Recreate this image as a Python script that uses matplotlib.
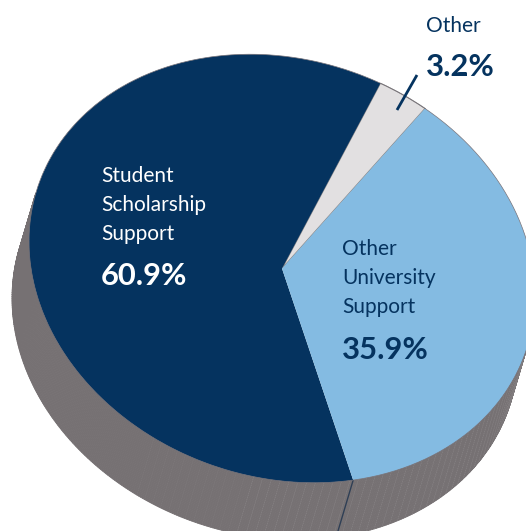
import numpy as np
import matplotlib
matplotlib.use("Agg")
import matplotlib.pyplot as plt
from matplotlib.transforms import Affine2D

labels = ["Other", "Student Scholarship Support", "Other University Support"]
shares = [3.2, 60.9, 35.9]
share_labels = ["3.2%", "60.9%", "35.9%"]
colors = ["#e2e0e1", "#05335f", "#84bbe2"]

W, H = 526, 531
FONT = "Lato"
NAVY = "#05335f"

fig = plt.figure(figsize=(W / 100, H / 100), dpi=100)
ax = fig.add_axes([0, 0, 1, 1])

# A circular pie seen through an affine tilt (pixel space, y pointing up)
a, b, c, d = 143, -208.7, 160, 142.5
cx, cy = 282, H - 268.5
tilt = Affine2D.from_values(a, c, b, d, cx, cy)
dx, dy = -17, -57

# side wall: only the part of the rim that faces the extrusion direction
t = np.linspace(0, 2 * np.pi, 721)
ex, ey = a * np.cos(t) + b * np.sin(t), c * np.cos(t) + d * np.sin(t)
tx, ty = -a * np.sin(t) + b * np.cos(t), -c * np.sin(t) + d * np.cos(t)
facing = (ty * dx - tx * dy) > 0
for i in range(len(t) - 1):
    if not facing[i]:
        continue
    xs = [ex[i] + cx, ex[i + 1] + cx, ex[i + 1] + cx + dx, ex[i] + cx + dx]
    ys = [ey[i] + cy, ey[i + 1] + cy, ey[i + 1] + cy + dy, ey[i] + cy + dy]
    ax.fill(xs, ys, color="#767173", lw=0.6, zorder=1)
for k in range(0, len(t) - 1, 4):
    px, py = ex[k] + cx, ey[k] + cy
    if px > 150 and facing[k]:
        ax.plot([px, px + dx], [py, py + dy], color="#8b8789", lw=0.5,
                ls=(0, (2, 1)), alpha=0.8 if px > 250 else 0.3, zorder=2)

wedges, _ = ax.pie(shares, colors=colors, startangle=0, radius=1, counterclock=True,
                   wedgeprops={"linewidth": 0})
ax.set_aspect("auto")
ax.set_xlim(0, W)
ax.set_ylim(0, H)
ax.axis("off")
for w in wedges:
    w.set_transform(tilt + ax.transData)
    w.set_zorder(3)
wedges[0].set_edgecolor("#8a8788")
wedges[0].set_linewidth(0.8)

# thin grey rim around the top face
ax.plot(ex + cx, ey + cy, color="#77737a", lw=0.5, zorder=3.5)

# seam on the wall under the slice boundary
ang = 2 * np.pi * (shares[0] + shares[1]) / 100
sx, sy = cx + a * np.cos(ang) + b * np.sin(ang), cy + c * np.cos(ang) + d * np.sin(ang)
ax.plot([sx, sx + dx], [sy, sy + dy], color="#2f3f55", lw=1, zorder=2.5)

# leader
ax.plot([397, 417], [H - 110, H - 75], color=NAVY, lw=2, zorder=4, solid_capstyle="butt")

def txt(x, y, s, color, size, weight="normal"):
    ax.text(x, H - y, s, color=color, fontsize=size, fontweight=weight,
            family=FONT, ha="left", va="baseline", zorder=5)

txt(426, 32, labels[0], NAVY, 15)
txt(426, 76, share_labels[0], NAVY, 22.2, "bold")
for y, s in zip([182, 211, 240], ["Student", "Scholarship", "Support"]):
    txt(101, y, s, "white", 15)
txt(101, 285, share_labels[1], "white", 22.2, "bold")
for y, s in zip([255, 284, 313], ["Other", "University", "Support"]):
    txt(342, y, s, NAVY, 15)
txt(342, 359, share_labels[2], NAVY, 22.2, "bold")

fig.savefig("out.png", dpi=100)
